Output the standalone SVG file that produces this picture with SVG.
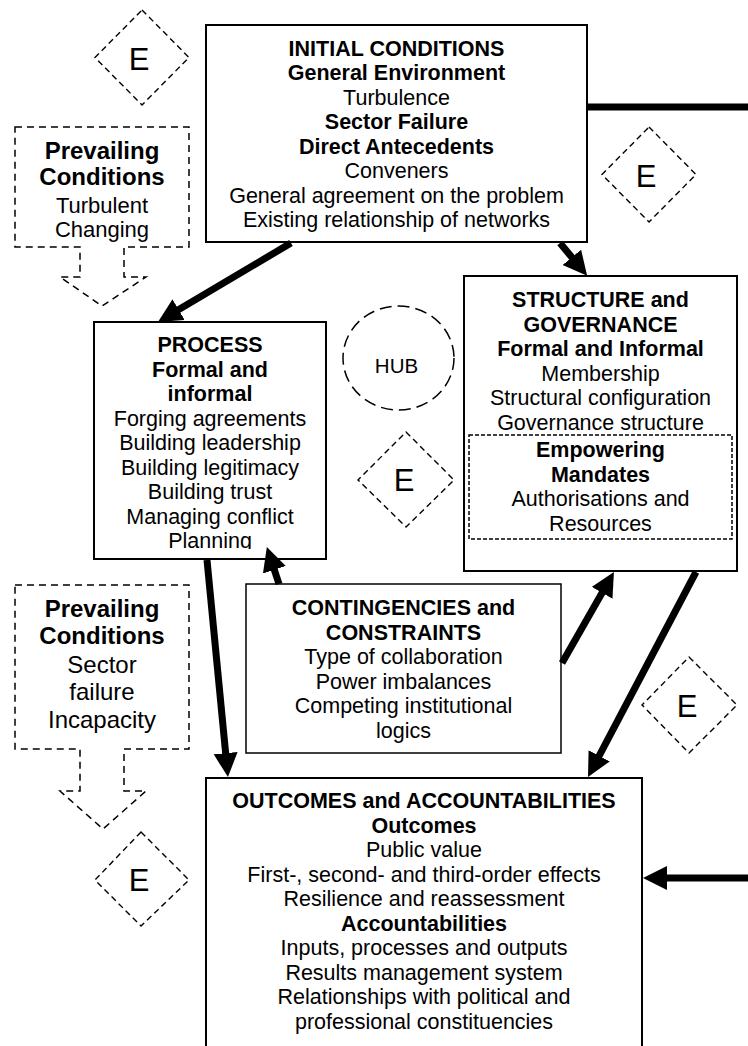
<svg xmlns="http://www.w3.org/2000/svg" width="748" height="1046" viewBox="0 0 748 1046">
  <style>
    text { font-family: "Liberation Sans", Arial, sans-serif; fill: #000; text-anchor: middle; }
    .b { font-size: 21.5px; font-weight: bold; }
    .r { font-size: 21.5px; }
    .pb { font-size: 24px; font-weight: bold; }
    .pr { font-size: 22px; }
    .pr2 { font-size: 24px; }
    .e { font-size: 31px; }
    .hub { font-size: 20.5px; }
    .box { fill: #fff; stroke: #000; stroke-width: 2; }
    .thin { fill: #fff; stroke: #000; stroke-width: 1.5; }
    .dash { fill: none; stroke: #000; stroke-width: 1.5; stroke-dasharray: 7 5; }
    .dia { fill: none; stroke: #000; stroke-width: 1.4; stroke-dasharray: 6 4; }
    .dot { fill: none; stroke: #000; stroke-width: 1.5; stroke-dasharray: 4 2; }
    .circ { fill: none; stroke: #000; stroke-width: 1.5; stroke-dasharray: 12 6; }
    .conn { fill: none; stroke: #000; stroke-width: 7; }
    .arr { marker-end: url(#head); }
  </style>
  <defs>
    <marker id="head" markerUnits="userSpaceOnUse" markerWidth="26" markerHeight="26" refX="12" refY="12" orient="auto">
      <path d="M0,0 L24,12 L0,24 z" fill="#000"/>
    </marker>
    <clipPath id="procClip">
      <rect x="94" y="322" width="232" height="227"/>
    </clipPath>
  </defs>

  <!-- environment markers -->
  <g id="env-1">
    <polygon class="dia" points="142,10 189,57.5 142,105 95,57.5"/>
    <text class="e" x="139" y="70">E</text>
  </g>
  <g id="env-2">
    <polygon class="dia" points="649,127 696,174.5 649,222 602,174.5"/>
    <text class="e" x="646" y="187">E</text>
  </g>
  <g id="env-3">
    <polygon class="dia" points="406,432 454,480 406,527 358,480"/>
    <text class="e" x="404" y="491">E</text>
  </g>
  <g id="env-4">
    <polygon class="dia" points="689,657 737,705 689,753 642,705"/>
    <text class="e" x="687" y="717">E</text>
  </g>
  <g id="env-5">
    <polygon class="dia" points="141,832 189,880 141,926 95,880"/>
    <text class="e" x="139" y="891">E</text>
  </g>

  <!-- prevailing conditions -->
  <g id="prevailing-1">
    <polygon class="dash" points="15,127 189,127 189,247 124,247 124,277 146,277 102,306 60,277 80,277 80,247 15,247"/>
    <text class="pb" x="102" y="159">Prevailing</text>
    <text class="pb" x="102" y="185">Conditions</text>
    <text class="pr" x="102" y="213">Turbulent</text>
    <text class="pr" x="102" y="237">Changing</text>
  </g>
  <g id="prevailing-2">
    <polygon class="dash" points="15,585 189,585 189,749 124,749 124,791 146,791 103,829 60,791 80,791 80,749 15,749"/>
    <text class="pb" x="102" y="617">Prevailing</text>
    <text class="pb" x="102" y="644">Conditions</text>
    <text class="pr2" x="102" y="673">Sector</text>
    <text class="pr2" x="102" y="700">failure</text>
    <text class="pr2" x="102" y="728">Incapacity</text>
  </g>

  <!-- hub -->
  <g id="hub">
    <ellipse class="circ" cx="398.5" cy="358" rx="55.5" ry="52"/>
    <text class="hub" x="396.5" y="373">HUB</text>
  </g>

  <g id="initial-conditions">
    <rect class="box" x="206" y="25" width="381" height="217"/>
    <text class="b" x="396.5" y="55.5">INITIAL CONDITIONS</text>
    <text class="b" x="396.5" y="80">General Environment</text>
    <text class="r" x="396.5" y="104.5">Turbulence</text>
    <text class="b" x="396.5" y="129">Sector Failure</text>
    <text class="b" x="396.5" y="153.5">Direct Antecedents</text>
    <text class="r" x="396.5" y="178">Conveners</text>
    <text class="r" x="396.5" y="202.5">General agreement on the problem</text>
    <text class="r" x="396.5" y="227">Existing relationship of networks</text>
  </g>

  <g id="process">
    <rect class="box" x="94" y="322" width="232" height="237"/>
    <g clip-path="url(#procClip)">
      <text class="b" x="210" y="352">PROCESS</text>
      <text class="b" x="210" y="376.5">Formal and</text>
      <text class="b" x="210" y="401">informal</text>
      <text class="r" x="210" y="425.5">Forging agreements</text>
      <text class="r" x="210" y="450">Building leadership</text>
      <text class="r" x="210" y="474.5">Building legitimacy</text>
      <text class="r" x="210" y="499">Building trust</text>
      <text class="r" x="210" y="523.5">Managing conflict</text>
      <text class="r" x="210" y="548">Planning</text>
    </g>
  </g>

  <g id="structure-governance">
    <rect class="box" x="464" y="276" width="273" height="295"/>
    <text class="b" x="600.5" y="307">STRUCTURE and</text>
    <text class="b" x="600.5" y="331.5">GOVERNANCE</text>
    <text class="b" x="600.5" y="356">Formal and Informal</text>
    <text class="r" x="600.5" y="380.5">Membership</text>
    <text class="r" x="600.5" y="405">Structural configuration</text>
    <text class="r" x="600.5" y="429.5">Governance structure</text>
    <rect class="dot" x="469" y="435" width="263" height="104"/>
    <text class="b" x="600.5" y="457">Empowering</text>
    <text class="b" x="600.5" y="481.5">Mandates</text>
    <text class="r" x="600.5" y="506">Authorisations and</text>
    <text class="r" x="600.5" y="530.5">Resources</text>
  </g>

  <g id="contingencies">
    <rect class="thin" x="246" y="584" width="315" height="169"/>
    <text class="b" x="403.5" y="615">CONTINGENCIES and</text>
    <text class="b" x="403.5" y="639.5">CONSTRAINTS</text>
    <text class="r" x="403.5" y="664">Type of collaboration</text>
    <text class="r" x="403.5" y="688.5">Power imbalances</text>
    <text class="r" x="403.5" y="713">Competing institutional</text>
    <text class="r" x="403.5" y="737.5">logics</text>
  </g>

  <g id="outcomes">
    <rect class="box" x="206" y="778" width="436" height="300"/>
    <text class="b" x="424" y="808">OUTCOMES and ACCOUNTABILITIES</text>
    <text class="b" x="424" y="832.5">Outcomes</text>
    <text class="r" x="424" y="857">Public value</text>
    <text class="r" x="424" y="881.5">First-, second- and third-order effects</text>
    <text class="r" x="424" y="906">Resilience and reassessment</text>
    <text class="b" x="424" y="930.5">Accountabilities</text>
    <text class="r" x="424" y="955">Inputs, processes and outputs</text>
    <text class="r" x="424" y="979.5">Results management system</text>
    <text class="r" x="424" y="1004">Relationships with political and</text>
    <text class="r" x="424" y="1028.5">professional constituencies</text>
  </g>

  <!-- connectors -->
  <g id="connectors">
    <line class="conn" x1="587" y1="107" x2="752" y2="107"/>
    <line class="conn arr" x1="291" y1="243" x2="168.3" y2="315.8"/>
    <line class="conn arr" x1="560" y1="243" x2="579.5" y2="266.6"/>
    <line class="conn arr" x1="207" y1="560" x2="226.8" y2="765.1"/>
    <line class="conn arr" x1="279" y1="584" x2="270.6" y2="558.4"/>
    <line class="conn arr" x1="562" y1="663" x2="608" y2="582.4"/>
    <line class="conn arr" x1="696" y1="572" x2="593.6" y2="766.4"/>
    <line class="conn arr" x1="752" y1="878" x2="655" y2="878"/>
  </g>
</svg>
